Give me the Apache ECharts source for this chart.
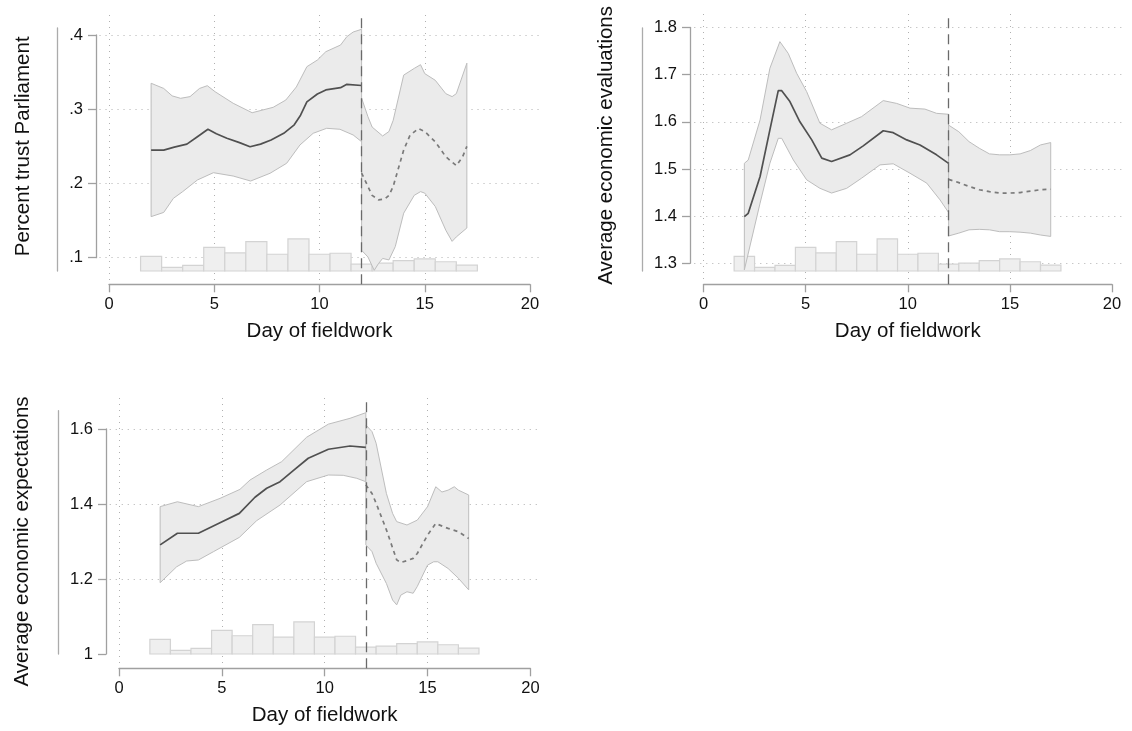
<!DOCTYPE html>
<html>
<head>
	<meta charset="utf-8"/>
	<title>Day of fieldwork</title>
	<style type="text/css">
		html,body{ margin:0; padding:0; background:#fff; }
		#chart{ width:1132px; height:731px; }
	</style>
</head>
<body>
	<div id="chart"></div>

	<script src="https://cdn.jsdelivr.net/npm/echarts@6.0.0/dist/echarts.min.js"></script>
	<script type="text/javascript">

		// ---- data ----
		var CUTOFF = 12;
		var X_TICKS = [0, 5, 10, 15, 20];
		var X_GRID = [0, 5, 10, 15];

		// share of interviews per fieldwork day (histogram, %)
		var HIST_DAYS = [2, 3, 4, 5, 6, 7, 8, 9, 10, 11, 12, 13, 14, 15, 16, 17];
		var HIST_PCT  = [6.0, 1.5, 2.3, 9.7, 7.5, 12.1, 6.9, 13.2, 6.9, 7.3, 2.8, 3.2, 4.3, 5.0, 3.8, 2.4];

		// panel 1: percent trust parliament
		var TRUST_Y_TICKS = [0.1, 0.2, 0.3, 0.4];
		var TRUST_Y_LABELS = ['.1', '.2', '.3', '.4'];
		var trustMidPre = [[2,.245],[2.6,.245],[3.1,.249],[3.7,.253],[4.2,.263],[4.7,.273],[5.1,.267],[5.6,.261],[6.2,.255],[6.7,.2495],[7.2,.253],[7.7,.2585],[8.3,.2675],[8.8,.279],[9.1,.292],[9.4,.31],[9.9,.3205],[10.3,.326],[11.0,.329],[11.3,.3336],[12,.332]];
		var trustHiPre = [[2,.335],[2.6,.328],[3.0,.318],[3.4,.3147],[3.85,.317],[4.3,.328],[4.67,.3317],[5.04,.3236],[5.9,.308],[6.8,.2953],[7.8,.3026],[8.4,.3124],[8.9,.33],[9.4,.3573],[9.9,.3663],[10.3,.3775],[11.0,.3865],[11.3,.3978],[11.6,.404],[12,.4077]];
		var trustLoPre = [[2,.1553],[2.6,.161],[3.06,.18],[3.5,.189],[4.2,.2047],[4.96,.2145],[5.9,.21],[6.73,.2033],[7.65,.2137],[8.44,.2272],[9.07,.2518],[9.7,.2676],[10.34,.2743],[10.97,.273],[11.6,.2653],[12,.2563]];
		var trustMidPost = [[12,.214],[12.3,.196],[12.5,.184],[12.8,.178],[13.1,.179],[13.3,.184],[13.5,.196],[14,.245],[14.3,.265],[14.7,.274],[15,.27],[15.5,.256],[16,.236],[16.5,.224],[16.8,.236],[17,.25]];
		var trustHiPost = [[12,.315],[12.3,.29],[12.5,.276],[13,.264],[13.3,.27],[13.5,.285],[14,.346],[14.5,.355],[14.8,.36],[15,.348],[15.5,.339],[16,.321],[16.3,.317],[16.5,.321],[17,.362]];
		var trustLoPost = [[12,.11],[12.3,.101],[12.6,.083],[12.8,.092],[13,.099],[13.3,.097],[13.6,.115],[14,.16],[14.5,.184],[14.8,.189],[15,.187],[15.5,.169],[16,.137],[16.3,.122],[16.5,.128],[17,.14]];

		// panel 2: average economic evaluations
		var EVAL_Y_TICKS = [1.3, 1.4, 1.5, 1.6, 1.7, 1.8];
		var EVAL_Y_LABELS = ['1.3', '1.4', '1.5', '1.6', '1.7', '1.8'];
		var evalMidPre = [[2,1.399],[2.19,1.406],[2.77,1.484],[3.25,1.583],[3.66,1.666],[3.83,1.666],[4.23,1.643],[4.72,1.6],[5.3,1.5617],[5.79,1.523],[6.27,1.516],[7.17,1.53],[7.82,1.549],[8.8,1.581],[9.29,1.577],[9.95,1.5617],[10.6,1.551],[11.41,1.53],[12,1.512]];
		var evalHiPre = [[2,1.512],[2.19,1.519],[2.77,1.604],[3.25,1.7135],[3.74,1.77],[4.15,1.745],[4.56,1.703],[5.05,1.664],[5.7,1.597],[6.27,1.583],[7.01,1.597],[7.74,1.611],[8.8,1.645],[9.46,1.639],[10.11,1.629],[10.84,1.627],[11.41,1.618],[12,1.616]];
		var evalLoPre = [[2,1.286],[2.77,1.4275],[3.25,1.512],[3.66,1.565],[3.83,1.565],[4.4,1.519],[5.05,1.477],[5.7,1.459],[6.27,1.449],[7.01,1.459],[7.74,1.4805],[8.64,1.5087],[9.29,1.511],[10.11,1.491],[10.93,1.47],[11.58,1.4345],[12,1.4076]];
		var evalMidPost = [[12,1.478],[12.5,1.471],[13,1.463],[13.5,1.456],[14,1.452],[14.5,1.449],[15,1.449],[15.5,1.45],[16,1.453],[16.5,1.456],[17,1.457]];
		var evalHiPost = [[12,1.593],[12.5,1.579],[13,1.558],[13.5,1.544],[14,1.532],[14.5,1.53],[15,1.53],[15.5,1.532],[16,1.539],[16.5,1.551],[17,1.556]];
		var evalLoPost = [[12,1.358],[12.5,1.364],[13,1.371],[13.5,1.372],[14,1.371],[14.5,1.367],[15,1.367],[15.5,1.366],[16,1.364],[16.5,1.36],[17,1.357]];

		// panel 3: average economic expectations
		var EXP_Y_TICKS = [1, 1.2, 1.4, 1.6];
		var EXP_Y_LABELS = ['1', '1.2', '1.4', '1.6'];
		var expMidPre = [[2,1.291],[2.84,1.322],[3.86,1.322],[4.91,1.35],[5.85,1.375],[6.61,1.418],[7.18,1.442],[7.83,1.4595],[8.47,1.489],[9.2,1.522],[10.18,1.546],[11.23,1.5547],[12,1.551]];
		var expHiPre = [[2,1.393],[2.84,1.406],[3.86,1.393],[4.91,1.415],[5.88,1.439],[6.37,1.464],[7.18,1.4907],[7.91,1.513],[9.12,1.578],[10.18,1.613],[11.23,1.6285],[12,1.6435]];
		var expLoPre = [[2,1.19],[2.8,1.2325],[3.29,1.248],[3.86,1.2507],[4.59,1.2728],[5.85,1.311],[6.69,1.3555],[7.83,1.3973],[9.12,1.4595],[10.18,1.4773],[10.9,1.4765],[11.56,1.4685],[12,1.4595]];
		var expMidPost = [[12,1.451],[12.3,1.428],[12.5,1.402],[13,1.331],[13.5,1.251],[13.7,1.244],[14,1.249],[14.3,1.255],[14.5,1.268],[15,1.317],[15.4,1.348],[15.8,1.339],[16,1.335],[16.5,1.326],[17,1.308]];
		var expHiPost = [[12,1.611],[12.3,1.593],[12.5,1.562],[13,1.428],[13.3,1.375],[13.5,1.353],[14,1.344],[14.5,1.357],[15,1.393],[15.4,1.446],[15.7,1.432],[16,1.437],[16.3,1.446],[16.5,1.437],[17,1.424]];
		var expLoPost = [[12,1.291],[12.3,1.273],[12.5,1.242],[13,1.188],[13.3,1.144],[13.5,1.131],[13.7,1.157],[14,1.166],[14.3,1.162],[14.5,1.18],[15,1.237],[15.3,1.246],[15.5,1.246],[16,1.228],[16.5,1.202],[17,1.171]];

		// ---- layout / style ----
		var FONT = "'Liberation Sans', Arial, Helvetica, sans-serif";
		var AXIS_GREY = '#a0a0a0';
		var X_MIN = -0.45, X_MAX = 20.5;

		var panels = [
			{
				box: [109, 530, 35, 257.7], plotTop: 15, xAxisY: 284.3, yAxisX: 96,
				histTop: 28, histBase: 271, strayX: 57.5,
				yTicks: TRUST_Y_TICKS, yLabels: TRUST_Y_LABELS, yGrid: TRUST_Y_TICKS,
				yName: 'Percent trust Parliament', yNameGap: 62,
				midPre: trustMidPre, hiPre: trustHiPre, loPre: trustLoPre,
				midPost: trustMidPost, hiPost: trustHiPost, loPost: trustLoPost
			},
			{
				box: [703.5, 1112, 27.5, 263.3], plotTop: 14, xAxisY: 284.3, yAxisX: 690,
				histTop: 28, histBase: 271, strayX: 642.7,
				yTicks: EVAL_Y_TICKS, yLabels: EVAL_Y_LABELS, yGrid: EVAL_Y_TICKS,
				yName: 'Average economic evaluations', yNameGap: 73,
				midPre: evalMidPre, hiPre: evalHiPre, loPre: evalLoPre,
				midPost: evalMidPost, hiPost: evalHiPost, loPost: evalLoPost
			},
			{
				box: [119, 530.4, 429, 654], plotTop: 398, xAxisY: 668.3, yAxisX: 106,
				histTop: 410.7, histBase: 654, strayX: 58,
				yTicks: EXP_Y_TICKS, yLabels: EXP_Y_LABELS, yGrid: [1.2, 1.4, 1.6],
				yName: 'Average economic expectations', yNameGap: 73,
				midPre: expMidPre, hiPre: expHiPre, loPre: expLoPre,
				midPost: expMidPost, hiPost: expHiPost, loPost: expLoPost
			}
		];

		var grids = [], xAxes = [], yAxes = [], series = [];

		function bandSeries(axisIdx, hi, lo){
			return {
				type: 'custom', xAxisIndex: axisIdx, yAxisIndex: axisIdx,
				silent: true, animation: false, z: 2,
				data: [hi[0]],
				renderItem: function(params, api){
					var pts = hi.map(function(p){ return api.coord(p); });
					for(var k = lo.length - 1; k >= 0; k--){ pts.push(api.coord(lo[k])); }
					return {
						type: 'polygon',
						shape: { points: pts },
						style: { fill: '#ebebeb', stroke: '#bdbdbd', lineWidth: 1 }
					};
				}
			};
		}

		panels.forEach(function(p){
			var gi = grids.length;
			var yLo = p.yTicks[0], yHi = p.yTicks[p.yTicks.length - 1];
			var pxX = (p.box[1] - p.box[0]) / 20;
			var pxY = (p.box[3] - p.box[2]) / (yHi - yLo);
			var plotLeft = p.box[0] + X_MIN * pxX;
			var plotWidth = (X_MAX - X_MIN) * pxX;

			// plot region, axis box, histogram strip
			grids.push({ left: plotLeft, top: p.plotTop, width: plotWidth, height: p.xAxisY - p.plotTop, outerBoundsMode: 'none' });
			grids.push({ left: p.box[0], top: p.box[2], width: p.box[1] - p.box[0], height: p.box[3] - p.box[2], outerBoundsMode: 'none' });
			grids.push({ left: plotLeft, top: p.histTop, width: plotWidth, height: p.histBase - p.histTop, outerBoundsMode: 'none' });

			var dotted = { color: '#b0b0b0', type: [1, 5], width: 1 };

			xAxes.push({
				gridIndex: gi, type: 'value', min: X_MIN, max: X_MAX,
				axisLine: { show: false, onZero: false },
				axisTick: { show: false, customValues: X_GRID },
				axisLabel: { show: false },
				splitLine: { show: true, lineStyle: dotted }
			});
			yAxes.push({
				gridIndex: gi, type: 'value',
				min: yLo - (p.xAxisY - p.box[3]) / pxY,
				max: yHi + (p.box[2] - p.plotTop) / pxY,
				axisLine: { show: false, onZero: false },
				axisTick: { show: false, customValues: p.yGrid },
				axisLabel: { show: false },
				splitLine: { show: true, lineStyle: dotted }
			});

			xAxes.push({
				gridIndex: gi + 1, type: 'value', min: 0, max: 20,
				offset: p.xAxisY - p.box[3],
				axisLine: { show: true, onZero: false, lineStyle: { color: AXIS_GREY, width: 1.3 } },
				axisTick: { show: true, length: 8, customValues: X_TICKS, lineStyle: { color: AXIS_GREY, width: 1.3 } },
				axisLabel: { show: true, customValues: X_TICKS, margin: 12, fontSize: 16.5, color: '#111', fontFamily: FONT },
				splitLine: { show: false },
				name: 'Day of fieldwork', nameLocation: 'middle', nameGap: 37,
				nameTextStyle: { fontSize: 20.5, color: '#111', fontFamily: FONT }
			});
			yAxes.push({
				gridIndex: gi + 1, type: 'value', min: yLo, max: yHi,
				offset: p.box[0] - p.yAxisX,
				axisLine: { show: true, onZero: false, lineStyle: { color: AXIS_GREY, width: 1.3 } },
				axisTick: { show: true, length: 8, customValues: p.yTicks, lineStyle: { color: AXIS_GREY, width: 1.3 } },
				axisLabel: {
					show: true, customValues: p.yTicks, margin: 13, fontSize: 16.5, color: '#111', fontFamily: FONT,
					formatter: function(v){
						var best = 0;
						for(var k = 1; k < p.yTicks.length; k++){
							if(Math.abs(p.yTicks[k] - v) < Math.abs(p.yTicks[best] - v)) best = k;
						}
						return p.yLabels[best];
					}
				},
				splitLine: { show: false },
				name: p.yName, nameLocation: 'middle', nameGap: p.yNameGap,
				nameTextStyle: { fontSize: 20.5, color: '#111', fontFamily: FONT }
			});

			xAxes.push({ gridIndex: gi + 2, type: 'value', min: X_MIN, max: X_MAX, show: false });
			yAxes.push({
				gridIndex: gi + 2, type: 'value', min: 0, max: 100,
				offset: plotLeft - p.strayX,
				axisLine: { show: true, onZero: false, lineStyle: { color: '#ababab', width: 1.3 } },
				axisTick: { show: false }, axisLabel: { show: false }, splitLine: { show: false }
			});

			// histogram of interviews per day
			series.push({
				type: 'custom', xAxisIndex: gi + 2, yAxisIndex: gi + 2,
				silent: true, animation: false, z: 1,
				data: HIST_DAYS.map(function(d, k){ return [d, HIST_PCT[k]]; }),
				renderItem: function(params, api){
					var d = api.value(0), v = api.value(1);
					var a = api.coord([d - 0.5, v]);
					var b = api.coord([d + 0.5, 0]);
					return {
						type: 'rect',
						shape: { x: a[0], y: a[1], width: b[0] - a[0], height: b[1] - a[1] },
						style: { fill: '#efefef', stroke: '#d3d3d3', lineWidth: 1.2 }
					};
				}
			});

			series.push(bandSeries(gi, p.hiPre, p.loPre));
			series.push(bandSeries(gi, p.hiPost, p.loPost));

			series.push({
				type: 'line', xAxisIndex: gi, yAxisIndex: gi, data: p.midPre,
				showSymbol: false, silent: true, animation: false, z: 3,
				lineStyle: { color: '#505050', width: 1.7 }
			});
			series.push({
				type: 'line', xAxisIndex: gi, yAxisIndex: gi, data: p.midPost,
				showSymbol: false, silent: true, animation: false, z: 3,
				lineStyle: { color: '#7a7a7a', width: 1.7, type: [4, 4] },
				markLine: {
					silent: true, symbol: ['none', 'none'], label: { show: false }, animation: false,
					lineStyle: { color: '#6a6a6a', width: 1.3, type: [10, 6] },
					data: [{ xAxis: CUTOFF }]
				}
			});
		});

		var chart = echarts.init(document.getElementById('chart'));
		chart.setOption({
			backgroundColor: '#ffffff',
			animation: false,
			grid: grids,
			xAxis: xAxes,
			yAxis: yAxes,
			series: series
		});

	</script>
</body>
</html>
